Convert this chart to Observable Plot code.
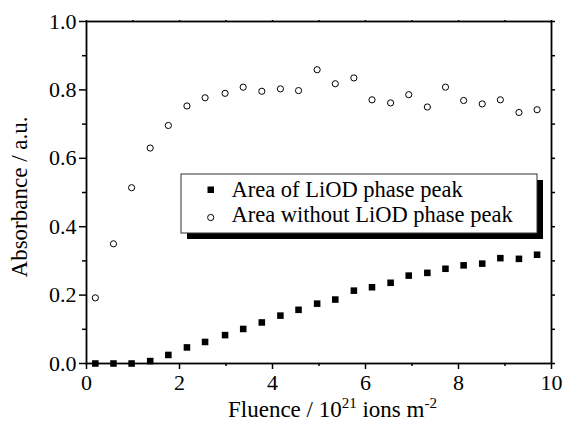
<!DOCTYPE html>
<html>
<head>
<meta charset="utf-8">
<script src="https://cdn.jsdelivr.net/npm/d3@7"></script>
<script src="https://cdn.jsdelivr.net/npm/@observablehq/plot@0.6"></script>
<style>
  html, body { margin: 0; padding: 0; background: white; }
  #chart { position: relative; width: 565px; height: 422px; }
  #chart svg, #chart svg text { font-family: "Liberation Serif", "Times New Roman", serif; }
</style>
</head>
<body>
<div id="chart"></div>
<script>
// Fluence (10^21 ions m^-2)
const fluence = [0.19, 0.58, 0.97, 1.37, 1.76, 2.16, 2.55, 2.98, 3.37, 3.77, 4.17, 4.56, 4.96, 5.35, 5.75, 6.14, 6.54, 6.93, 7.33, 7.72, 8.11, 8.51, 8.90, 9.30, 9.69];
// Area of LiOD phase peak (filled squares)
const areaLiOD = [0.0, 0.0, 0.0, 0.007, 0.025, 0.047, 0.063, 0.083, 0.101, 0.120, 0.140, 0.157, 0.175, 0.187, 0.213, 0.223, 0.236, 0.257, 0.265, 0.277, 0.287, 0.292, 0.308, 0.306, 0.318];
// Area without LiOD phase peak (open circles)
const areaWithout = [0.192, 0.350, 0.514, 0.630, 0.696, 0.753, 0.777, 0.790, 0.808, 0.796, 0.803, 0.798, 0.859, 0.818, 0.835, 0.771, 0.762, 0.786, 0.750, 0.808, 0.769, 0.759, 0.771, 0.734, 0.742];

const xMajor = [0, 2, 4, 6, 8, 10];
const xMinor = [1, 3, 5, 7, 9];
const yMajor = [0, 0.2, 0.4, 0.6, 0.8, 1.0];
const yMinor = [0.1, 0.3, 0.5, 0.7, 0.9];
const seriesNames = ["Area of LiOD phase peak", "Area without LiOD phase peak"];

const squares = fluence.map((x, i) => ({x, y: areaLiOD[i]}));
const circles = fluence.map((x, i) => ({x, y: areaWithout[i]}));

const font = "Liberation Serif, Times New Roman, serif";

const svg = Plot.plot({
  width: 565,
  height: 422,
  marginLeft: 86,
  marginRight: 14,
  marginTop: 21,
  marginBottom: 59,
  style: {fontSize: "22px", background: "white", color: "black", overflow: "visible"},
  x: {domain: [0, 10]},
  y: {domain: [0, 1]},
  marks: [
    Plot.axisX({ticks: xMajor, tickSize: 6, tickPadding: 5, label: null, tickFormat: d => String(d), fontSize: 22, fontFamily: font, strokeWidth: 1.5}),
    Plot.axisX({ticks: xMinor, tickSize: 3, text: null, label: null, strokeWidth: 1.5}),
    Plot.axisY({ticks: yMajor, tickSize: 7, tickPadding: 3, label: null, tickFormat: d3.format(".1f"), fontSize: 22, fontFamily: font, strokeWidth: 1.5}),
    Plot.axisY({ticks: yMinor, tickSize: 4, text: null, label: null, strokeWidth: 1.5}),
    Plot.axisX({anchor: "top", ticks: xMajor.concat(xMinor), tickSize: 2, text: null, label: null, strokeWidth: 1.5}),
    Plot.axisY({anchor: "right", ticks: yMajor.concat(yMinor), tickSize: 3, text: null, label: null, strokeWidth: 1.5}),
    Plot.frame({stroke: "black", strokeWidth: 1.8}),
    Plot.dot(circles, {x: "x", y: "y", r: 3.1, stroke: "black", fill: "white", strokeWidth: 1}),
    Plot.dot(squares, {x: "x", y: "y", symbol: "square", r: 3.7, fill: "black", stroke: "none"})
  ]
});

document.getElementById("chart").appendChild(svg);

const s = d3.select(svg);

// Y axis label
s.append("text")
  .attr("transform", "translate(27,197) rotate(-90)")
  .attr("text-anchor", "middle")
  .attr("font-family", font)
  .attr("font-size", 23)
  .attr("fill", "black")
  .text("Absorbance / a.u.");

// X axis label with superscripts
const xl = s.append("text")
  .attr("x", 228)
  .attr("y", 417)
  .attr("text-anchor", "start")
  .attr("font-family", font)
  .attr("font-size", 23)
  .attr("fill", "black");
xl.append("tspan").text("Fluence / 10");
xl.append("tspan").attr("dy", -9).attr("font-size", 15).text("21");
xl.append("tspan").attr("dy", 9).text(" ions m");
xl.append("tspan").attr("dy", -9).attr("font-size", 15).text("-2");

// Legend with drop shadow
const lg = s.append("g").attr("font-family", font).attr("font-size", 22.5).attr("text-anchor", "start");
lg.append("rect").attr("x", 187).attr("y", 180).attr("width", 356).attr("height", 59).attr("fill", "black");
lg.append("rect").attr("x", 181).attr("y", 174).attr("width", 356).attr("height", 59)
  .attr("fill", "white").attr("stroke", "#333").attr("stroke-width", 1);
lg.append("rect").attr("x", 207.5).attr("y", 186.5).attr("width", 6.5).attr("height", 6.5).attr("fill", "black");
lg.append("circle").attr("cx", 210.7).attr("cy", 217.5).attr("r", 3.1).attr("fill", "white").attr("stroke", "black");
lg.append("text").attr("x", 231.5).attr("y", 197).attr("fill", "black").text(seriesNames[0]);
lg.append("text").attr("x", 231.5).attr("y", 222).attr("fill", "black").text(seriesNames[1]);
</script>
</body>
</html>
